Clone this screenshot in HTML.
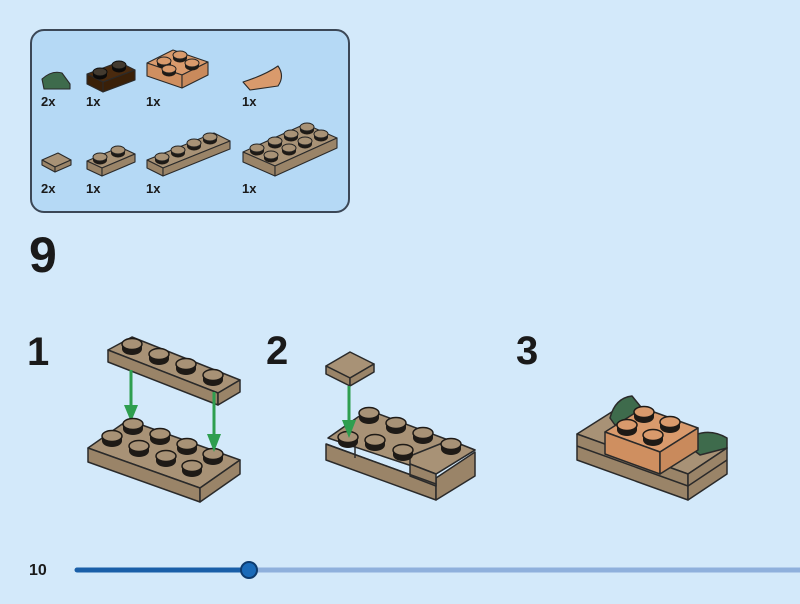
<!DOCTYPE html>
<html><head><meta charset="utf-8"><style>
html,body{margin:0;padding:0;background:#d3e9fa;}
svg{display:block}
text{font-family:"Liberation Sans",sans-serif;font-weight:bold;fill:#1a1a1a}
</style></head><body>
<svg width="800" height="604" viewBox="0 0 800 604" xmlns="http://www.w3.org/2000/svg">
<defs>
<g id="stud"><ellipse cx="0" cy="5" rx="10" ry="6" fill="#1e1a16"/><rect x="-10" y="0" width="20" height="5" fill="#1e1a16"/><ellipse cx="0" cy="0" rx="10" ry="5.5" fill="#a89276" stroke="#1e1a16" stroke-width="1.5"/></g>
<g id="studS"><ellipse cx="0" cy="3" rx="7" ry="4.5" fill="#1e1a16"/><rect x="-7" y="0" width="14" height="3" fill="#1e1a16"/><ellipse cx="0" cy="0" rx="7" ry="4" fill="#a89276" stroke="#222" stroke-width="1"/></g>
<g id="studO"><ellipse cx="0" cy="5" rx="10" ry="6" fill="#1e1a16"/><rect x="-10" y="0" width="20" height="5" fill="#1e1a16"/><ellipse cx="0" cy="0" rx="10" ry="5.5" fill="#d99a6c" stroke="#1e1a16" stroke-width="1.5"/></g>
<g id="studOS"><ellipse cx="0" cy="3" rx="7" ry="4.5" fill="#1e1a16"/><rect x="-7" y="0" width="14" height="3" fill="#1e1a16"/><ellipse cx="0" cy="0" rx="7" ry="4" fill="#d99a6c" stroke="#222" stroke-width="1"/></g>
</defs>

<rect x="31" y="30" width="318" height="182" rx="13" fill="#b5d9f5" stroke="#3b4756" stroke-width="2"/>
<g stroke="#2a2a2a" stroke-width="1.1" stroke-linejoin="round">
 <path d="M42 79 Q52 70 62 73 L70 84 L70 89 L44 89 Z" fill="#3e6b4c"/>
 <polygon points="87,74 119,62 135,70 103,82" fill="#4a2a0e"/>
 <polygon points="87,74 103,82 103,92 87,84" fill="#3a2008"/>
 <polygon points="103,82 135,70 135,80 103,92" fill="#3a2008"/>
 <polygon points="147,63 173,50 208,62 182,75" fill="#d99a6c"/>
 <polygon points="147,63 182,75 182,88 147,76" fill="#cf8f60"/>
 <polygon points="182,75 208,62 208,75 182,88" fill="#c98a5c"/>
 <path d="M243 82 Q265 75 278 66 Q285 76 278 86 L250 90 Z" fill="#d99a6c"/>
 <polygon points="42,160 58,153 71,160 55,167" fill="#a89276"/>
 <polygon points="42,160 55,167 55,172 42,165" fill="#9a8468"/>
 <polygon points="55,167 71,160 71,165 55,172" fill="#9a8468"/>
 <polygon points="87,161 120,147 135,154 102,168" fill="#a89276"/>
 <polygon points="87,161 102,168 102,176 87,169" fill="#9a8468"/>
 <polygon points="102,168 135,154 135,162 102,176" fill="#9a8468"/>
 <polygon points="147,160 214,133 230,141 163,168" fill="#a89276"/>
 <polygon points="147,160 163,168 163,176 147,168" fill="#9a8468"/>
 <polygon points="163,168 230,141 230,149 163,176" fill="#9a8468"/>
 <polygon points="243,152 305,124 337,138 275,166" fill="#a89276"/>
 <polygon points="243,152 275,166 275,176 243,162" fill="#9a8468"/>
 <polygon points="275,166 337,138 337,148 275,176" fill="#9a8468"/>
</g>
<use href="#studS" x="100" y="72" style="filter:brightness(0.4)"/><use href="#studS" x="119" y="65" style="filter:brightness(0.4)"/>
<use href="#studOS" x="164" y="61"/><use href="#studOS" x="180" y="55"/><use href="#studOS" x="169" y="69"/><use href="#studOS" x="192" y="63"/>
<use href="#studS" x="100" y="157"/><use href="#studS" x="118" y="150"/>
<use href="#studS" x="162" y="157"/><use href="#studS" x="178" y="150"/><use href="#studS" x="194" y="143"/><use href="#studS" x="210" y="137"/>
<use href="#studS" x="307" y="127"/><use href="#studS" x="321" y="134"/><use href="#studS" x="291" y="134"/><use href="#studS" x="305" y="141"/><use href="#studS" x="275" y="141"/><use href="#studS" x="289" y="148"/><use href="#studS" x="257" y="148"/><use href="#studS" x="271" y="155"/>
<text x="41" y="106" font-size="13">2x</text><text x="86" y="106" font-size="13">1x</text><text x="146" y="106" font-size="13">1x</text><text x="242" y="106" font-size="13">1x</text>
<text x="41" y="193" font-size="13">2x</text><text x="86" y="193" font-size="13">1x</text><text x="146" y="193" font-size="13">1x</text><text x="242" y="193" font-size="13">1x</text>

<text x="29" y="272" font-size="50">9</text>
<text x="27" y="365" font-size="40">1</text>
<text x="266" y="364" font-size="40">2</text>
<text x="516" y="364" font-size="40">3</text>

<g stroke="#2a2a2a" stroke-width="1.5" stroke-linejoin="round">
 <polygon points="108,350 132,337 240,380 218,393" fill="#a89276"/>
 <polygon points="108,350 218,393 218,405 108,362" fill="#9a8468"/>
 <polygon points="218,393 240,380 240,392 218,405" fill="#9a8468"/>
 <polygon points="88,448 128,420 240,460 200,488" fill="#a89276"/>
 <polygon points="88,448 200,488 200,502 88,462" fill="#9a8468"/>
 <polygon points="200,488 240,460 240,474 200,502" fill="#9a8468"/>
</g>
<use href="#stud" x="132" y="344"/><use href="#stud" x="159" y="354"/><use href="#stud" x="186" y="364"/><use href="#stud" x="213" y="375"/>
<line x1="131" y1="370" x2="131" y2="410" stroke="#2e9e4f" stroke-width="3"/><polygon points="124,405 138,405 131,422" fill="#2e9e4f"/>
<use href="#stud" x="133" y="424"/><use href="#stud" x="160" y="434"/><use href="#stud" x="187" y="444"/><use href="#stud" x="213" y="454"/>
<use href="#stud" x="112" y="436"/><use href="#stud" x="139" y="446"/><use href="#stud" x="166" y="456"/><use href="#stud" x="192" y="466"/>
<line x1="214" y1="392" x2="214" y2="440" stroke="#2e9e4f" stroke-width="3"/><polygon points="207,434 221,434 214,452" fill="#2e9e4f"/>

<g stroke="#2a2a2a" stroke-width="1.5" stroke-linejoin="round">
 <polygon points="326,366 350,352 374,364 350,378" fill="#a89276"/>
 <polygon points="326,366 350,378 350,386 326,374" fill="#9a8468"/>
 <polygon points="350,378 374,364 374,372 350,386" fill="#9a8468"/>
 <polygon points="328,438 368,410 475,450 436,474" fill="#a89276"/>
 <polygon points="326,444 436,484 436,500 326,460" fill="#9a8468"/>
 <polygon points="436,478 475,452 475,476 436,500" fill="#9a8468"/>
 <polygon points="410,456 450,440 475,450 436,474 410,464" fill="#a89276"/>
 <polygon points="410,464 436,474 436,486 410,476" fill="#9a8468"/>
 <line x1="326" y1="444" x2="436" y2="484"/>
 <line x1="355" y1="444" x2="355" y2="458"/>
</g>
<use href="#stud" x="369" y="413"/><use href="#stud" x="396" y="423"/><use href="#stud" x="423" y="433"/><use href="#stud" x="451" y="444"/>
<use href="#stud" x="348" y="437"/><use href="#stud" x="375" y="440"/><use href="#stud" x="403" y="450"/>
<line x1="349" y1="386" x2="349" y2="425" stroke="#2e9e4f" stroke-width="3"/><polygon points="342,420 356,420 349,438" fill="#2e9e4f"/>

<g stroke="#2a2a2a" stroke-width="1.5" stroke-linejoin="round">
 <polygon points="577,434 618,408 727,448 688,474" fill="#a89276"/>
 <polygon points="577,434 688,474 688,500 577,460" fill="#9a8468"/>
 <polygon points="688,474 727,448 727,474 688,500" fill="#9a8468"/>
 <line x1="577" y1="446" x2="688" y2="486"/><line x1="688" y1="486" x2="727" y2="460"/>
 <path d="M610 418 Q615 398 632 396 L645 412 L615 425 Z" fill="#3e6b4c"/>
 <path d="M683 442 Q705 425 727 438 L727 448 L700 455 Z" fill="#3e6b4c"/>
 <polygon points="605,432 643,408 698,428 660,452" fill="#d99a6c"/>
 <polygon points="605,432 660,452 660,474 605,454" fill="#cf8f60"/>
 <polygon points="660,452 698,428 698,450 660,474" fill="#c98a5c"/>
</g>
<use href="#studO" x="644" y="412"/><use href="#studO" x="670" y="422"/><use href="#studO" x="627" y="425"/><use href="#studO" x="653" y="435"/>

<text x="29" y="575" font-size="16">10</text>
<line x1="249" y1="570" x2="800" y2="570" stroke="#8fb0dc" stroke-width="5"/>
<line x1="77" y1="570" x2="249" y2="570" stroke="#1a5fa8" stroke-width="5" stroke-linecap="round"/>
<circle cx="249" cy="570" r="8" fill="#1a6ab8" stroke="#0d3b6e" stroke-width="2"/>
</svg>
</body></html>
